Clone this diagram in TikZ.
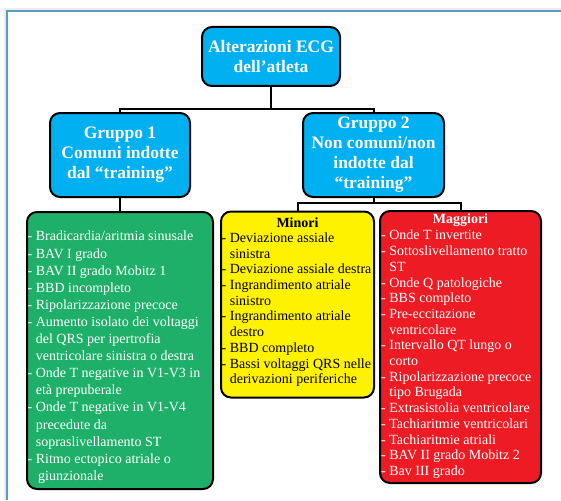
\documentclass[tikz,border=0pt]{standalone}
\usepackage{fontspec}
\setmainfont{Liberation Serif}
\definecolor{cyanbox}{RGB}{0,176,240}
\definecolor{greenbox}{RGB}{30,176,104}
\definecolor{yellowbox}{RGB}{255,242,0}
\definecolor{redbox}{RGB}{237,28,36}
\definecolor{framecol}{RGB}{91,155,189}
\begin{document}
\begin{tikzpicture}[x=1pt,y=-1pt,
  box/.style={draw=black,line width=2pt,rounded corners=10pt,inner sep=0pt},
  titlebox/.style={box,fill=cyanbox,text=white,align=center,
    font=\fontsize{17.5}{20}\selectfont\bfseries},
  listtext/.style={inner sep=0pt,align=left,anchor=north west,
    font=\fontsize{14}{15.7}\selectfont},
  headtext/.style={inner sep=0pt,font=\fontsize{14}{16.8}\selectfont\bfseries},
  conn/.style={draw=black,line width=2pt}]
\useasboundingbox (0,0) rectangle (561,500);
% outer frame
\draw[gray!15,line width=1.5pt] (5,500) -- (5,9) -- (561,9);
\draw[framecol,line width=1.6pt] (7,500) -- (7,11) -- (561,11);
% title boxes
\node[titlebox,minimum width=138pt,minimum height=59pt] (root) at (271,56.5)
  {Alterazioni ECG\\dell’atleta};
\node[titlebox,minimum width=140pt,minimum height=84pt] (g1) at (120,155)
  {Gruppo 1\\Comuni indotte\\dal “training”};
\node[titlebox,minimum width=141pt,minimum height=84pt] (g2) at (373.5,155)
  {Gruppo 2\\Non comuni/non\\indotte dal\\“training”};
% list boxes
\node[box,fill=greenbox,minimum width=186pt,minimum height=277pt] (green) at (120,350.5) {};
\node[box,fill=yellowbox,minimum width=153pt,minimum height=186pt] (yellow) at (297.5,304.5) {};
\node[box,fill=redbox,minimum width=161pt,minimum height=272pt] (red) at (460.5,347) {};
% connectors
\coordinate (j0) at (271,109);
\coordinate (j2) at (373.5,203);
\draw[conn] (root.south) -- (j0);
\draw[conn] (j0) -| (g1.north);
\draw[conn] (j0) -| (g2.north);
\draw[conn] (g1.south) -- (green.north);
\draw[conn] (g2.south) -- (j2);
\draw[conn] (j2) -| (yellow.north);
\draw[conn] (j2) -| (red.north);
% texts
\node[listtext,text=white,font=\fontsize{14}{17.1}\selectfont] (gtext) at (27.5,231)
  {- Bradicardia/aritmia sinusale\\
   - BAV I grado\\
   - BAV II grado Mobitz 1\\
   - BBD incompleto\\
   - Ripolarizzazione precoce\\
   - Aumento isolato dei voltaggi\\
   \hphantom{- }del QRS per ipertrofia\\
   \hphantom{- }ventricolare sinistra o destra\\
   - Onde T negative in V1-V3 in\\
   \hphantom{- }età prepuberale\\
   - Onde T negative in V1-V4\\
   \hphantom{- }precedute da\\
   \hphantom{- }sopraslivellamento ST\\
   - Ritmo ectopico atriale o\\
   \hphantom{- }\,giunzionale};
\node[headtext,text=black] (yhead) at (297.5,223) {Minori};
\node[listtext,text=black] (ytext) at (221.5,232.5)
  {- Deviazione assiale\\
   \hphantom{- }sinistra\\
   - Deviazione assiale destra\\
   - Ingrandimento atriale\\
   \hphantom{- }sinistro\\
   - Ingrandimento atriale\\
   \hphantom{- }destro\\
   - BBD completo\\
   - Bassi voltaggi QRS nelle\\
   \hphantom{- }derivazioni periferiche};
\node[headtext,text=white] (rhead) at (460.5,220.5) {Maggiori};
\node[listtext,text=white] (rtext) at (381,230)
  {- Onde T invertite\\
   - Sottoslivellamento tratto\\
   \hphantom{- }ST\\
   - Onde Q patologiche\\
   - BBS completo\\
   - Pre-eccitazione\\
   \hphantom{- }ventricolare\\
   - Intervallo QT lungo o\\
   \hphantom{- }corto\\
   - Ripolarizzazione precoce\\
   \hphantom{- }tipo Brugada\\
   - Extrasistolia ventricolare\\
   - Tachiaritmie ventricolari\\
   - Tachiaritmie atriali\\
   - BAV II grado Mobitz 2\\
   - Bav III grado};
\end{tikzpicture}
\end{document}
